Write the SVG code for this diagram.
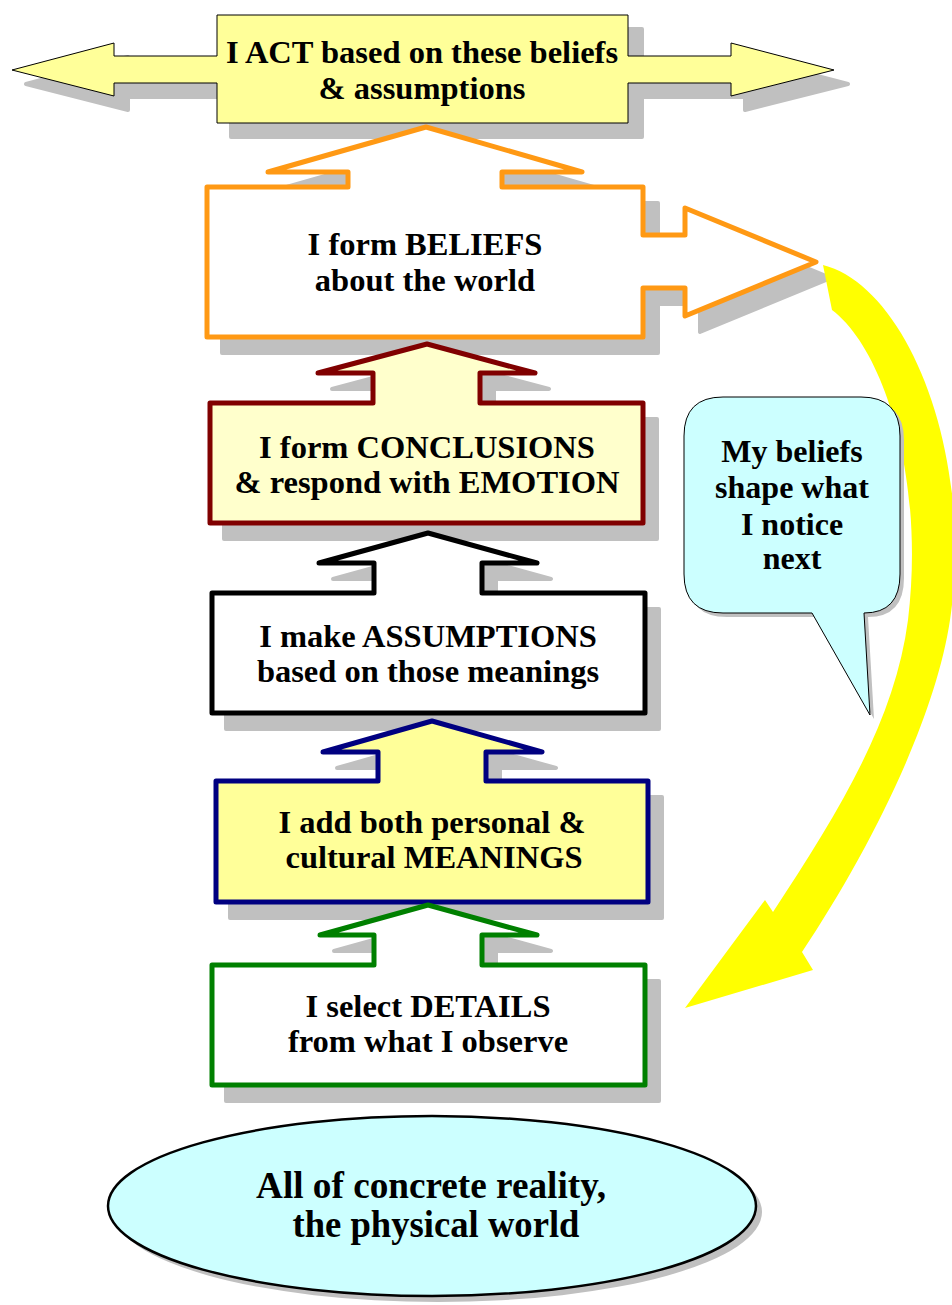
<svg xmlns="http://www.w3.org/2000/svg" width="952" height="1305" viewBox="0 0 952 1305">
<style>
.t{font-family:"Liberation Serif","Times New Roman",serif;font-weight:bold;font-size:32.5px;fill:#000;text-anchor:middle}
.c{font-size:32px}
.e{font-size:37px}
.sh{fill:#c0c0c0;stroke:#c0c0c0;stroke-width:4;stroke-linejoin:round}
.b{stroke-width:5;stroke-linejoin:round}
</style>
<rect width="952" height="1305" fill="#fff"/>

<g id="act">
<path class="sh" transform="translate(14,14)" d="M12,70 L114,43 L114,56 L217,56 L217,15 L628,15 L628,56 L731,56 L731,43 L834,70 L731,96 L731,83 L628,83 L628,123 L217,123 L217,83 L114,83 L114,96 Z"/>
<path d="M12,70 L114,43 L114,56 L217,56 L217,15 L628,15 L628,56 L731,56 L731,43 L834,70 L731,96 L731,83 L628,83 L628,123 L217,123 L217,83 L114,83 L114,96 Z" fill="#ffff99" stroke="#000" stroke-width="1"/>
<text class="t" x="422" y="63">I ACT based on these beliefs</text>
<text class="t" x="422" y="99">&amp; assumptions</text>
</g>

<g id="beliefs">
<path class="sh" transform="translate(15,16)" d="M426,127 L582,172 L502,172 L502,187 L643,187 L643,235 L685,235 L685,208 L816,262 L685,316 L685,288 L643,288 L643,337 L207,337 L207,187 L348,187 L348,172 L268,172 Z"/>
<path class="b" d="M426,127 L582,172 L502,172 L502,187 L643,187 L643,235 L685,235 L685,208 L816,262 L685,316 L685,288 L643,288 L643,337 L207,337 L207,187 L348,187 L348,172 L268,172 Z" fill="#fff" stroke="#ff9914"/>
<text class="t" x="425" y="255">I form BELIEFS</text>
<text class="t" x="425" y="291">about the world</text>
</g>

<g id="conclusions">
<path class="sh" transform="translate(14,16)" d="M427,344 L535,373 L480,373 L480,403 L643,403 L643,523 L210,523 L210,403 L373,403 L373,373 L318,373 Z"/>
<path class="b" d="M427,344 L535,373 L480,373 L480,403 L643,403 L643,523 L210,523 L210,403 L373,403 L373,373 L318,373 Z" fill="#ffffcc" stroke="#800000"/>
<text class="t" x="427" y="458">I form CONCLUSIONS</text>
<text class="t" x="427" y="493">&amp; respond with EMOTION</text>
</g>

<g id="assumptions">
<path class="sh" transform="translate(14,16)" d="M428,533 L537,563 L482,563 L482,593 L645,593 L645,713 L212,713 L212,593 L374,593 L374,563 L319,563 Z"/>
<path class="b" d="M428,533 L537,563 L482,563 L482,593 L645,593 L645,713 L212,713 L212,593 L374,593 L374,563 L319,563 Z" fill="#fff" stroke="#000"/>
<text class="t" x="428" y="647">I make ASSUMPTIONS</text>
<text class="t" x="428" y="682">based on those meanings</text>
</g>

<g id="meanings">
<path class="sh" transform="translate(14,16)" d="M432,721 L542,752 L486,752 L486,781 L648,781 L648,902 L216,902 L216,781 L378,781 L378,752 L323,752 Z"/>
<path class="b" d="M432,721 L542,752 L486,752 L486,781 L648,781 L648,902 L216,902 L216,781 L378,781 L378,752 L323,752 Z" fill="#ffff99" stroke="#000080"/>
<text class="t" x="432" y="833">I add both personal &amp;</text>
<text class="t" x="434" y="868">cultural MEANINGS</text>
</g>

<g id="details">
<path class="sh" transform="translate(14,16)" d="M428,905 L537,935 L482,935 L482,965 L645,965 L645,1085 L212,1085 L212,965 L374,965 L374,935 L320,935 Z"/>
<path class="b" d="M428,905 L537,935 L482,935 L482,965 L645,965 L645,1085 L212,1085 L212,965 L374,965 L374,935 L320,935 Z" fill="#fff" stroke="#008000"/>
<text class="t" x="428" y="1017">I select DETAILS</text>
<text class="t" x="428" y="1052">from what I observe</text>
</g>

<g id="reality">
<ellipse cx="438" cy="1212" rx="324" ry="90" fill="#c0c0c0"/>
<ellipse cx="432" cy="1206" rx="324" ry="90" fill="#ccffff" stroke="#000" stroke-width="2.5"/>
<text class="t e" x="431" y="1198" textLength="350" lengthAdjust="spacingAndGlyphs">All of concrete reality,</text>
<text class="t e" x="436" y="1237" textLength="287" lengthAdjust="spacingAndGlyphs">the physical world</text>
</g>

<g id="connectors">
<path id="loop" d="M823,265 C905,285 975,450 950,620 C935,720 870,850 802,952 L813,970 L685,1008 L765,900 L773,912 C840,810 895,720 908,620 C925,480 885,350 832,310 Z" fill="#ffff00"/>
</g>

<g id="callout">
<path transform="translate(4,4)" d="M723,397 L861,397 Q900,397 900,436 L900,574 Q900,613 864,613 L870,715 L812,613 L723,613 Q684,613 684,574 L684,436 Q684,397 723,397 Z" fill="#c0c0c0"/>
<path d="M723,397 L861,397 Q900,397 900,436 L900,574 Q900,613 864,613 L870,715 L812,613 L723,613 Q684,613 684,574 L684,436 Q684,397 723,397 Z" fill="#ccffff" stroke="#000" stroke-width="1"/>
<text class="t c" x="792" y="462">My beliefs</text>
<text class="t c" x="792" y="498">shape what</text>
<text class="t c" x="792" y="535">I notice</text>
<text class="t c" x="792" y="569">next</text>
</g>
</svg>
